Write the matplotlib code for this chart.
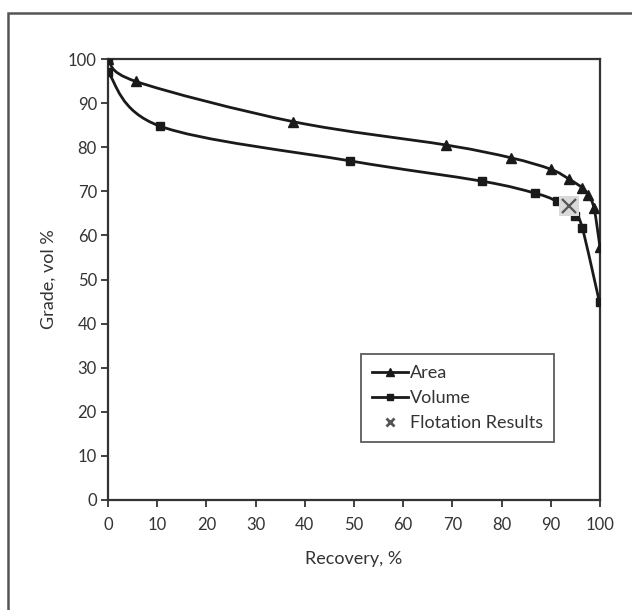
import matplotlib
matplotlib.use("Agg")
import matplotlib.pyplot as plt
from matplotlib.path import Path
from matplotlib.patches import PathPatch, Rectangle
from matplotlib.lines import Line2D
import numpy as np

plt.rcParams['font.family'] = ['Lato', 'DejaVu Sans']

# Data
area_recovery = [0, 5.7, 37.6, 68.7, 81.9, 90.0, 93.8, 96.4, 97.6, 98.8, 100]
area_grade = [100, 94.9, 85.8, 80.5, 77.6, 75.0, 72.7, 70.8, 69.2, 66.1, 57.3]

volume_recovery = [0, 0, 10.5, 49.2, 76.0, 86.7, 91.2, 94.9, 96.4, 99.9]
volume_grade = [100, 97.1, 84.8, 76.9, 72.3, 69.6, 67.7, 64.5, 61.7, 44.8]

flotation_recovery = [93.7]
flotation_grade = [66.7]

x_ticks = [0, 10, 20, 30, 40, 50, 60, 70, 80, 90, 100]
y_ticks = [0, 10, 20, 30, 40, 50, 60, 70, 80, 90, 100]

W, H = 632, 610
fig = plt.figure(figsize=(W / 100, H / 100), dpi=100)
ax = fig.add_axes([108 / W, 1 - 500 / H, 492 / W, 441 / H])

# outer frame
fig.patches.append(Rectangle((8 / W, -0.1), 1.2, 1 - 13 / H + 0.1,
                             transform=fig.transFigure, fill=False,
                             edgecolor='#555555', linewidth=1.8))


def smooth_path(xs, ys):
    pts = np.column_stack([xs, ys]).astype(float)
    n = len(pts)
    verts = [pts[0]]
    codes = [Path.MOVETO]
    for i in range(n - 1):
        p0 = pts[i - 1] if i > 0 else pts[i]
        p1 = pts[i]
        p2 = pts[i + 1]
        p3 = pts[i + 2] if i + 2 < n else pts[i + 1]
        c1 = p1 + (p2 - p0) / 6.0
        c2 = p2 - (p3 - p1) / 6.0
        verts += [c1, c2, p2]
        codes += [Path.CURVE4] * 3
    return Path(verts, codes)


for xs, ys in [(area_recovery, area_grade), (volume_recovery, volume_grade)]:
    ax.add_patch(PathPatch(smooth_path(xs, ys), facecolor='none',
                           edgecolor='#1a1a1a', linewidth=2.0, zorder=3))

ax.plot(area_recovery, area_grade, linestyle='none', marker='^',
        markersize=6.5, color='#1a1a1a', zorder=4)
ax.plot(volume_recovery, volume_grade, linestyle='none', marker='s',
        markersize=5.5, color='#1a1a1a', zorder=4)
ax.plot(flotation_recovery, flotation_grade, linestyle='none', marker='s',
        markersize=14, color='#d9d9d9', markeredgewidth=0, zorder=5)
ax.plot(flotation_recovery, flotation_grade, linestyle='none', marker='x',
        markersize=10, color='#555555', markeredgewidth=1.6, zorder=6)

ax.set_xlim(0, 100)
ax.set_ylim(0, 100)
ax.set_xticks(x_ticks)
ax.set_yticks(y_ticks)
for s in ax.spines.values():
    s.set_linewidth(1.6)
    s.set_color('#333333')
ax.tick_params(direction='out', length=5, width=1.3, colors='#333333',
               labelsize=12, labelcolor='#333333')
ax.tick_params(axis='x', pad=7)
ax.tick_params(axis='y', pad=3)
ax.set_xlabel('Recovery, %', fontsize=13, color='#333333', labelpad=13)
ax.set_ylabel('Grade, vol %', fontsize=13, color='#333333', labelpad=8)

handles = [
    Line2D([], [], color='#1a1a1a', linewidth=2, marker='^', markersize=6),
    Line2D([], [], color='#1a1a1a', linewidth=2, marker='s', markersize=5),
    Line2D([], [], color='#555555', linestyle='none', marker='x',
           markersize=6, markeredgewidth=2),
]
leg = ax.legend(handles, ['Area', 'Volume', 'Flotation Results'],
                loc='lower left',
                bbox_to_anchor=((361 - 108) / 492, (500 - 442) / 441),
                borderaxespad=0, frameon=True, fancybox=False,
                fontsize=13, handlelength=2.0, handletextpad=0.1,
                labelspacing=0.5, borderpad=0.6)
leg.get_frame().set_edgecolor('#333333')
leg.get_frame().set_linewidth(1.3)
for t in leg.get_texts():
    t.set_color('#333333')

fig.savefig('out.png', dpi=100)
